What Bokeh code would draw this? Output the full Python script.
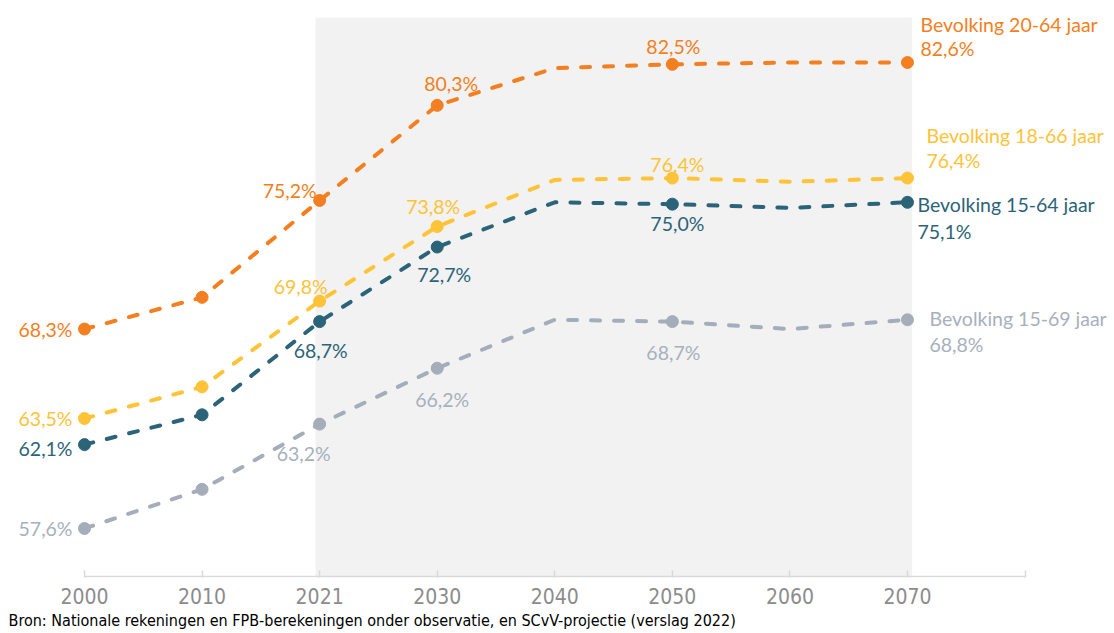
from bokeh.plotting import figure
from bokeh.models import Range1d, FixedTicker, Title
from bokeh.core.properties import value
from bokeh.embed import file_html
from bokeh.resources import INLINE

# ---- data ----
years = ["2000", "2010", "2021", "2030", "2040", "2050", "2060", "2070"]
marker_years = [0, 1, 2, 3, 5, 7]

s_20_64 = [68.3, 70.0, 75.2, 80.3, 82.3, 82.5, 82.6, 82.6]
s_18_66 = [63.5, 65.2, 69.8, 73.8, 76.3, 76.4, 76.2, 76.4]
s_15_64 = [62.1, 63.7, 68.7, 72.7, 75.1, 75.0, 74.8, 75.1]
s_15_69 = [57.6, 59.7, 63.2, 66.2, 68.8, 68.7, 68.3, 68.8]

names = ["Bevolking  20-64 jaar", "Bevolking  18-66 jaar",
         "Bevolking  15-64 jaar", "Bevolking  15-69 jaar"]
colors = ["#F47F20", "#FEC336", "#2B6478", "#A5ADBA"]
label_colors = ["#F47F20", "#FEC336", "#2B6478", "#A8B0BD"]
source_text = ("Bron: Nationale rekeningen en FPB-berekeningen onder observatie, "
               "en SCvV-projectie (verslag 2022)")

# label placement per series: (index, x_offset, y_offset, align)
label_pos = [
    [(0, -12, 0, "right"), (2, -3, -10, "right"), (3, 14, -22, "center"), (5, 1, -18, "center")],
    [(0, -12, 0, "right"), (2, -19, -15, "center"), (3, -4, -20, "center"), (5, 5, -14, "center")],
    [(0, -12, 4, "right"), (2, 1, 29, "center"), (3, 7, 27, "center"), (5, 5, 19, "center")],
    [(0, -12, 0, "right"), (2, -16, 29, "center"), (3, 5, 31, "center"), (5, 1, 31, "center")],
]
end_pos = [(13, -38, -14), (19, -43, -18), (10, 2, 29), (22, -1, 25)]

FONT = "Lato"
FONT_SIZE = "19.5px"
TICK_FONT = "DejaVu Sans Condensed, DejaVu Sans"

W, H = 1114, 633
BOTTOM = 56
px_per_x = 117.57
x0 = -84 / px_per_x
x1 = x0 + W / px_per_x
px_per_y = 18.64
y0 = 57.6 - (577 - 528) / px_per_y
y1 = 57.6 + 528 / px_per_y

p = figure(width=W, height=H, output_backend="svg", toolbar_location=None,
           x_range=Range1d(x0, x1), y_range=Range1d(y0, y1),
           y_axis_location=None, min_border_left=0, min_border_right=0,
           min_border_top=0, min_border_bottom=BOTTOM,
           outline_line_color=None, background_fill_color="white",
           border_fill_color="white")
p.grid.visible = False

# projection shading
p.quad(left=[1.965], right=[7.04], bottom=[y0], top=[85.0],
       fill_color="#F2F2F2", line_color=None)

# axis line
p.segment(x0=[0], y0=[y0 + 1.0 / px_per_y], x1=[8], y1=[y0 + 1.0 / px_per_y],
          line_color="#D9D9D9", line_width=1.5)

xs = list(range(len(years)))
series = [s_20_64, s_18_66, s_15_64, s_15_69]
fmt = lambda v: ("%.1f%%" % v).replace(".", ",")

for k, s in enumerate(series):
    c = colors[k]
    p.line(xs, s, line_color=c, line_width=4, line_dash="9 14", line_cap="round")
    mx = [xs[i] for i in marker_years]
    my = [s[i] for i in marker_years]
    p.scatter(mx, my, size=12, fill_color=c, line_color=c)
    for (i, dx, dy, al) in label_pos[k]:
        p.text([xs[i]], [s[i]], text=[fmt(s[i])], x_offset=dx, y_offset=dy,
               text_align=al, text_baseline="middle", text_color=label_colors[k],
               text_font=value(FONT), text_font_size=FONT_SIZE)
    ex, ey1, ey2 = end_pos[k]
    p.text([xs[7]], [s[7]], text=[names[k]], x_offset=ex, y_offset=ey1,
           text_align="left", text_baseline="middle", text_color=label_colors[k],
           text_font=value(FONT), text_font_size=FONT_SIZE)
    p.text([xs[7]], [s[7]], text=[fmt(s[7])], x_offset=ex, y_offset=ey2,
           text_align="left", text_baseline="middle", text_color=label_colors[k],
           text_font=value(FONT), text_font_size=FONT_SIZE)

ax = p.xaxis[0]
ax.ticker = FixedTicker(ticks=list(range(9)))
ax.major_label_overrides = {i: (years[i] if i < len(years) else "") for i in range(9)}
ax.axis_line_color = None
ax.major_tick_in = 7
ax.major_tick_out = 0
ax.major_tick_line_color = "#D9D9D9"
ax.major_tick_line_width = 1.5
ax.minor_tick_line_color = None
ax.major_label_standoff = 10
ax.major_label_text_font = TICK_FONT
ax.major_label_text_font_size = "21px"
ax.major_label_text_color = "#8C8C8C"

p.add_layout(Title(text=source_text, align="left", text_font=TICK_FONT,
                   text_font_size="16px", text_font_style="normal",
                   text_color="#000000", offset=8, standoff=4), "below")

open("out.html", "w").write(file_html(p, INLINE))
